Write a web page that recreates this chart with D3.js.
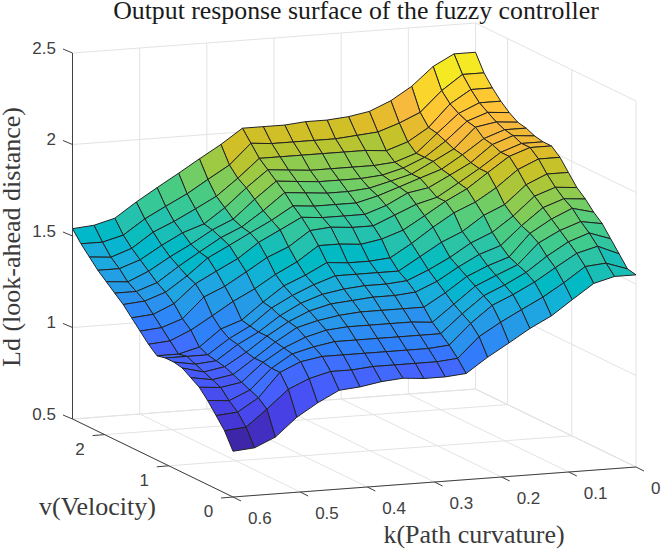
<!DOCTYPE html>
<html>
<head>
<meta charset="utf-8">
<script src="https://cdn.jsdelivr.net/npm/d3@7"></script>
<style>
html,body{margin:0;padding:0;background:#fff}
svg{display:block}
</style>
</head>
<body>
<svg id="chart" width="662" height="550"></svg>
<script>
// Sample positions of the controller surface
const kGrid = [0,0.032,0.063,0.095,0.126,0.158,0.189,0.221,0.253,0.284,0.316,0.347,0.379,0.411,0.442,0.474,0.505,0.537,0.568,0.6];
const vGrid = [0,0.132,0.263,0.395,0.526,0.658,0.789,0.921,1.053,1.184,1.316,1.447,1.579,1.711,1.842,1.974,2.105,2.237,2.368,2.5];

// Output Ld, one row per velocity sample, each running over kGrid
const ldRows = [
[1.55,1.55,1.52,1.44,1.36,1.30,1.23,1.16,1.08,1.07,1.07,1.08,1.07,1.05,1.04,0.98,0.91,0.81,0.76,0.75],
[1.56,1.60,1.59,1.51,1.44,1.38,1.32,1.25,1.14,1.13,1.13,1.13,1.13,1.12,1.12,1.09,1.04,0.94,0.85,0.84],
[1.62,1.67,1.64,1.57,1.50,1.44,1.39,1.30,1.19,1.18,1.18,1.18,1.18,1.18,1.18,1.16,1.11,0.98,0.91,0.90],
[1.68,1.72,1.68,1.61,1.53,1.47,1.42,1.33,1.23,1.23,1.23,1.23,1.23,1.23,1.21,1.18,1.11,1.00,0.95,0.96],
[1.74,1.76,1.72,1.66,1.55,1.50,1.45,1.36,1.27,1.28,1.28,1.28,1.28,1.27,1.24,1.19,1.12,1.02,1.00,1.01],
[1.78,1.81,1.76,1.69,1.57,1.53,1.48,1.40,1.33,1.33,1.33,1.33,1.32,1.30,1.27,1.20,1.12,1.04,1.02,1.04],
[1.83,1.84,1.80,1.71,1.61,1.57,1.51,1.44,1.39,1.38,1.38,1.37,1.36,1.33,1.28,1.21,1.13,1.06,1.04,1.07],
[1.87,1.88,1.84,1.74,1.66,1.61,1.54,1.48,1.43,1.42,1.42,1.41,1.39,1.35,1.29,1.21,1.15,1.07,1.06,1.08],
[1.93,1.93,1.88,1.78,1.73,1.65,1.60,1.53,1.46,1.46,1.46,1.46,1.42,1.37,1.31,1.22,1.16,1.08,1.08,1.08],
[1.99,1.99,1.94,1.85,1.78,1.73,1.66,1.58,1.51,1.50,1.50,1.51,1.45,1.40,1.32,1.23,1.19,1.10,1.07,1.07],
[2.03,2.03,1.99,1.91,1.83,1.77,1.70,1.63,1.59,1.57,1.58,1.58,1.50,1.44,1.37,1.31,1.24,1.17,1.12,1.11],
[2.03,2.03,1.99,1.91,1.84,1.77,1.74,1.69,1.64,1.64,1.65,1.64,1.56,1.51,1.44,1.37,1.32,1.21,1.17,1.16],
[2.04,2.05,2.01,1.92,1.86,1.80,1.78,1.72,1.68,1.68,1.68,1.69,1.63,1.57,1.49,1.43,1.37,1.27,1.22,1.21],
[2.06,2.06,2.02,1.94,1.87,1.83,1.79,1.75,1.72,1.72,1.72,1.73,1.66,1.60,1.54,1.48,1.39,1.31,1.27,1.26],
[2.07,2.08,2.06,1.95,1.89,1.83,1.80,1.77,1.76,1.76,1.77,1.78,1.69,1.61,1.56,1.49,1.42,1.34,1.30,1.30],
[2.10,2.11,2.07,1.97,1.89,1.84,1.81,1.80,1.80,1.80,1.81,1.82,1.73,1.63,1.58,1.51,1.45,1.38,1.33,1.34],
[2.14,2.14,2.09,1.99,1.89,1.85,1.84,1.84,1.84,1.84,1.85,1.86,1.77,1.67,1.59,1.55,1.49,1.42,1.38,1.38],
[2.19,2.19,2.12,2.00,1.93,1.89,1.90,1.90,1.90,1.90,1.90,1.90,1.80,1.71,1.65,1.59,1.54,1.46,1.42,1.43],
[2.25,2.25,2.17,2.06,2.01,1.97,1.96,1.95,1.95,1.95,1.95,1.96,1.85,1.78,1.71,1.65,1.59,1.51,1.48,1.48],
[2.34,2.34,2.28,2.18,2.11,2.06,2.04,2.03,2.03,2.02,2.02,2.02,1.94,1.87,1.80,1.73,1.66,1.58,1.55,1.54]
];

// Axis ticks and titles
const kTicks = [0,0.1,0.2,0.3,0.4,0.5,0.6];
const vTicks = [0,1,2];
const zTicks = [0.5,1,1.5,2,2.5];
const titleText = "Output response surface of the fuzzy controller";
const kTitle = "k(Path curvature)";
const vTitle = "v(Velocity)";
const zTitle = "Ld (look-ahead distance)";

// 64-step parula colormap
const parula = [[0.2422,0.1504,0.6603],[0.2504,0.1650,0.7076],[0.2578,0.1818,0.7511],[0.2647,0.1978,0.7952],[0.2706,0.2147,0.8364],[0.2751,0.2342,0.8710],[0.2783,0.2559,0.8991],[0.2803,0.2782,0.9221],[0.2813,0.3006,0.9414],[0.2810,0.3228,0.9579],[0.2795,0.3447,0.9717],[0.2760,0.3667,0.9829],[0.2699,0.3892,0.9906],[0.2602,0.4123,0.9952],[0.2440,0.4358,0.9988],[0.2206,0.4603,0.9973],[0.1963,0.4847,0.9892],[0.1834,0.5074,0.9798],[0.1786,0.5289,0.9682],[0.1764,0.5499,0.9520],[0.1687,0.5703,0.9359],[0.1540,0.5902,0.9218],[0.1460,0.6091,0.9079],[0.1380,0.6276,0.8973],[0.1248,0.6459,0.8883],[0.1113,0.6635,0.8763],[0.0952,0.6798,0.8598],[0.0689,0.6948,0.8394],[0.0297,0.7082,0.8163],[0.0036,0.7203,0.7917],[0.0067,0.7312,0.7660],[0.0433,0.7411,0.7394],[0.0964,0.7500,0.7120],[0.1408,0.7584,0.6842],[0.1717,0.7670,0.6554],[0.1938,0.7758,0.6251],[0.2161,0.7843,0.5923],[0.2470,0.7918,0.5567],[0.2906,0.7973,0.5188],[0.3406,0.8008,0.4789],[0.3909,0.8029,0.4354],[0.4456,0.8024,0.3909],[0.5044,0.7993,0.3480],[0.5616,0.7942,0.3045],[0.6174,0.7876,0.2612],[0.6720,0.7793,0.2227],[0.7242,0.7698,0.1910],[0.7738,0.7598,0.1646],[0.8203,0.7498,0.1535],[0.8634,0.7406,0.1596],[0.9035,0.7330,0.1774],[0.9393,0.7288,0.2100],[0.9728,0.7298,0.2394],[0.9956,0.7434,0.2371],[0.9970,0.7659,0.2199],[0.9952,0.7861,0.1990],[0.9892,0.8136,0.1885],[0.9786,0.8386,0.1766],[0.9676,0.8639,0.1643],[0.9610,0.8890,0.1537],[0.9597,0.9135,0.1423],[0.9628,0.9373,0.1265],[0.9691,0.9606,0.1064],[0.9769,0.9839,0.0805]]
  .map(c => d3.rgb(c[0] * 255, c[1] * 255, c[2] * 255).formatHex());

// Orthographic view: each data axis contributes a fixed screen offset
const kToX = d3.scaleLinear().domain([0, 0.6]).range([0, -403]);
const vToX = d3.scaleLinear().domain([0, 2.5]).range([0, -160.5]);
const kToY = d3.scaleLinear().domain([0, 0.6]).range([0, 30]);
const vToY = d3.scaleLinear().domain([0, 2.5]).range([0, -78]);
const zToY = d3.scaleLinear().domain([0.5, 2.5]).range([0, -366]);
const originX = 636, originY = 467;
const project = (k, v, z) => [originX + kToX(k) + vToX(v), originY + kToY(k) + vToY(v) + zToY(z)];

const ldFlat = ldRows.flat();
const colour = d3.scaleQuantize().domain(d3.extent(ldFlat)).range(parula);

const svg = d3.select("#chart");
const line = d3.line();
const kMax = 0.6, vMax = 2.5, zMin = 0.5, zMax = 2.5;

// Grid on the two back walls and the floor
const gridSegments = [];
kTicks.forEach(k => {
  if (k > 0) gridSegments.push([project(k, vMax, zMin), project(k, vMax, zMax)]);
  gridSegments.push([project(k, 0, zMin), project(k, vMax, zMin)]);
});
vTicks.forEach(v => {
  gridSegments.push([project(0, v, zMin), project(0, v, zMax)]);
  gridSegments.push([project(0, v, zMin), project(kMax, v, zMin)]);
});
zTicks.forEach(z => {
  gridSegments.push([project(kMax, vMax, z), project(0, vMax, z)]);
  gridSegments.push([project(0, vMax, z), project(0, 0, z)]);
});
gridSegments.push([project(0, vMax, zMin), project(0, vMax, zMax)]);
gridSegments.push([project(kMax, vMax, zMin), project(0, vMax, zMin)]);
gridSegments.push([project(0, vMax, zMin), project(0, 0, zMin)]);

svg.append("g").selectAll("path").data(gridSegments).join("path")
  .attr("d", line).attr("fill", "none")
  .attr("stroke", "#e3e3e3").attr("stroke-width", 1);

// Surface cells drawn from the far corner forward
const cells = [];
for (let i = vGrid.length - 2; i >= 0; i--) {
  for (let j = 0; j < kGrid.length - 1; j++) {
    cells.push({
      value: ldRows[i][j],
      corners: [[i, j], [i, j + 1], [i + 1, j + 1], [i + 1, j]]
        .map(([a, b]) => project(kGrid[b], vGrid[a], ldRows[a][b]))
    });
  }
}
svg.append("g").selectAll("path").data(cells).join("path")
  .attr("d", d => line(d.corners) + "Z")
  .attr("fill", d => colour(d.value))
  .attr("stroke", "#222222").attr("stroke-width", 1)
  .attr("stroke-linejoin", "round");

// Dark axis lines with their ticks
const axisColour = "#404040";
const axisSegments = [
  [project(kMax, vMax, zMin), project(kMax, vMax, zMax)],
  [project(kMax, vMax, zMin), project(kMax, 0, zMin)],
  [project(kMax, 0, zMin), project(0, 0, zMin)]
];
const offset = ([x, y], dx, dy) => [x + dx, y + dy];
zTicks.forEach(z => {
  const p = project(kMax, vMax, z);
  axisSegments.push([p, offset(p, -9.5, -4)]);
});
kTicks.forEach(k => {
  const p = project(k, 0, zMin);
  axisSegments.push([p, offset(p, 8, 4)]);
});
vTicks.forEach(v => {
  const p = project(kMax, v, zMin);
  axisSegments.push([p, offset(p, -12, 1)]);
});
svg.append("g").selectAll("path").data(axisSegments).join("path")
  .attr("d", line).attr("fill", "none")
  .attr("stroke", axisColour).attr("stroke-width", 1);

// Tick labels
const tickFont = "'Liberation Sans', Arial, sans-serif";
const tickLabel = (x, y, text, anchor) => svg.append("text")
  .attr("x", x).attr("y", y).attr("text-anchor", anchor).attr("dominant-baseline", "central")
  .attr("font-family", tickFont).attr("font-size", 17).attr("fill", axisColour).text(text);
zTicks.forEach(z => {
  const p = project(kMax, vMax, z);
  tickLabel(p[0] - 16.5, p[1] - 5, String(z), "end");
});
vTicks.forEach(v => {
  const p = project(kMax, v, zMin);
  tickLabel(p[0] - 24.5, p[1] + 14.5, String(v), "middle");
});
kTicks.forEach(k => {
  const p = project(k, 0, zMin);
  tickLabel(p[0] + 15, p[1] + 21, String(k), "start");
});

// Titles
const serif = "'Liberation Serif', 'Times New Roman', serif";
svg.append("text").attr("x", 356).attr("y", 18.5).attr("text-anchor", "middle")
  .attr("font-family", serif).attr("font-size", 25.8).attr("fill", "#1a1a1a").text(titleText);
svg.append("text").attr("x", 474).attr("y", 543).attr("text-anchor", "middle")
  .attr("font-family", serif).attr("font-size", 26).attr("fill", "#3a3a3a").text(kTitle);
svg.append("text").attr("x", 97.5).attr("y", 515).attr("text-anchor", "middle")
  .attr("font-family", serif).attr("font-size", 26).attr("fill", "#3a3a3a").text(vTitle);
svg.append("text").attr("transform", "translate(20,237) rotate(-90)").attr("text-anchor", "middle")
  .attr("font-family", serif).attr("font-size", 26).attr("fill", "#3a3a3a").text(zTitle);
</script>
</body>
</html>
